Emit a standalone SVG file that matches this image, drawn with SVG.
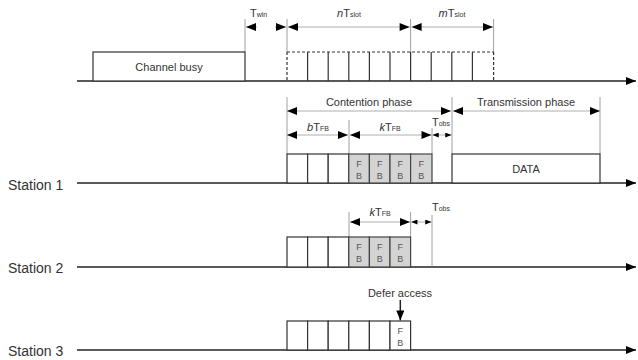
<svg xmlns="http://www.w3.org/2000/svg" width="638" height="360" viewBox="0 0 638 360">
<defs>
<marker id="ah" viewBox="0 0 10 8" refX="10" refY="4" markerWidth="11" markerHeight="8" markerUnits="userSpaceOnUse" orient="auto-start-reverse"><path d="M0,0 L10,4 L0,8 Z" fill="#000"/></marker>
<marker id="as" viewBox="0 0 10 8" refX="10" refY="4" markerWidth="7" markerHeight="5" markerUnits="userSpaceOnUse" orient="auto-start-reverse"><path d="M0,0 L10,4 L0,8 Z" fill="#000"/></marker>
</defs>
<style>
text{font-family:"Liberation Sans",Arial,sans-serif;fill:#333}
.lbl{font-size:11px}
.st{font-size:14px}
.sub{font-size:7px}
.fb{font-size:9px;fill:#555;text-anchor:middle}
.box{fill:#fff;stroke:#333;stroke-width:1.2}
.gbox{fill:#d4d4d4;stroke:#444;stroke-width:1.2}
.base{stroke:#222;stroke-width:1.5;fill:none}
.dim{stroke:#999;stroke-width:0.8;fill:none}
.ext{stroke:#888;stroke-width:0.8;fill:none}
</style>
<rect width="638" height="360" fill="#fff"/>
<g id="connectors">
<!-- timelines -->
<line class="base" x1="77" y1="81" x2="636" y2="81" marker-end="url(#ah)"/>
<line class="base" x1="77" y1="183" x2="636" y2="183" marker-end="url(#ah)"/>
<line class="base" x1="77" y1="267" x2="636" y2="267" marker-end="url(#ah)"/>
<line class="base" x1="77" y1="350" x2="636" y2="350" marker-end="url(#ah)"/>
<!-- top extension lines -->
<line class="ext" x1="245" y1="19" x2="245" y2="52"/>
<line class="ext" x1="287" y1="19" x2="287" y2="52"/>
<line class="ext" x1="410.6" y1="19" x2="410.6" y2="52"/>
<line class="ext" x1="493.6" y1="19" x2="493.6" y2="52"/>
<!-- top dimension arrows -->
<path d="M257,27 L246,27" class="dim" marker-end="url(#ah)"/>
<path d="M275,27 L286,27" class="dim" marker-end="url(#ah)"/>
<line class="dim" x1="288" y1="27" x2="409.6" y2="27" marker-start="url(#ah)" marker-end="url(#ah)"/>
<line class="dim" x1="411.6" y1="27" x2="493" y2="27" marker-start="url(#ah)" marker-end="url(#ah)"/>
<!-- station 1 extension lines -->
<line class="ext" x1="287" y1="97" x2="287" y2="154"/>
<line class="ext" x1="452" y1="97" x2="452" y2="154"/>
<line class="ext" x1="600" y1="97" x2="600" y2="154"/>
<line class="ext" x1="349" y1="120" x2="349" y2="154"/>
<line class="ext" x1="432" y1="128" x2="432" y2="154" stroke="#bbb"/>
<!-- station 1 dimension arrows -->
<line class="dim" x1="287" y1="111" x2="451" y2="111" marker-start="url(#ah)" marker-end="url(#ah)"/>
<line class="dim" x1="453" y1="111" x2="600" y2="111" marker-start="url(#ah)" marker-end="url(#ah)"/>
<line class="dim" x1="287" y1="135" x2="348" y2="135" marker-start="url(#ah)" marker-end="url(#ah)"/>
<line class="dim" x1="350" y1="135" x2="431.5" y2="135" marker-start="url(#ah)" marker-end="url(#ah)"/>
<line class="dim" x1="432.5" y1="135" x2="451.5" y2="135" marker-start="url(#as)" marker-end="url(#as)"/>
<!-- station 2 -->
<line class="ext" x1="349" y1="212" x2="349" y2="237"/>
<line class="ext" x1="410.6" y1="212" x2="410.6" y2="237"/>
<line class="ext" x1="432" y1="215" x2="432" y2="267" stroke="#bbb"/>
<line class="dim" x1="350" y1="222" x2="410" y2="222" marker-start="url(#ah)" marker-end="url(#ah)"/>
<line class="dim" x1="411.2" y1="222" x2="431.5" y2="222" marker-start="url(#as)" marker-end="url(#as)"/>
<!-- station 3 defer arrow -->
<line class="base" x1="400.3" y1="300" x2="400.3" y2="320.5" stroke-width="1" marker-end="url(#ah)"/>
</g>
<g id="channel-busy">
<rect class="box" x="93" y="52" width="152" height="29"/>
<text class="lbl" x="169" y="70.5" text-anchor="middle">Channel busy</text>
</g>
<g id="slots">
<line x1="287" y1="52" x2="493.6" y2="52" stroke="#333" stroke-width="1.2" stroke-dasharray="3,2"/>
<line x1="287" y1="52" x2="287" y2="81" stroke="#333" stroke-width="1.2" stroke-dasharray="3,2"/>
<line x1="493.6" y1="52" x2="493.6" y2="81" stroke="#333" stroke-width="1.2" stroke-dasharray="3,2"/>
<g stroke="#333" stroke-width="1.2">
<line x1="307.6" y1="52" x2="307.6" y2="81"/>
<line x1="328.2" y1="52" x2="328.2" y2="81"/>
<line x1="348.8" y1="52" x2="348.8" y2="81"/>
<line x1="369.4" y1="52" x2="369.4" y2="81"/>
<line x1="390" y1="52" x2="390" y2="81"/>
<line x1="410.6" y1="52" x2="410.6" y2="81"/>
<line x1="431.2" y1="52" x2="431.2" y2="81"/>
<line x1="451.8" y1="52" x2="451.8" y2="81"/>
<line x1="472.4" y1="52" x2="472.4" y2="81"/>
</g>
</g>
<g id="top-labels">
<text class="lbl" x="250" y="17">T<tspan class="sub" dy="0">win</tspan></text>
<text class="lbl" x="349" y="17" text-anchor="middle"><tspan font-style="italic">n</tspan>T<tspan class="sub">slot</tspan></text>
<text class="lbl" x="452" y="17" text-anchor="middle"><tspan font-style="italic">m</tspan>T<tspan class="sub">slot</tspan></text>
</g>
<g id="station1">
<text class="st" x="8" y="190">Station 1</text>
<rect class="box" x="287" y="154" width="20.6" height="29"/>
<rect class="box" x="307.6" y="154" width="20.6" height="29"/>
<rect class="box" x="328.2" y="154" width="20.6" height="29"/>
<rect class="gbox" x="348.8" y="154" width="20.6" height="29"/>
<rect class="gbox" x="369.4" y="154" width="20.6" height="29"/>
<rect class="gbox" x="390" y="154" width="20.6" height="29"/>
<rect class="gbox" x="410.6" y="154" width="21.4" height="29"/>
<text class="fb" x="359.1" y="167">F</text><text class="fb" x="359.1" y="179">B</text>
<text class="fb" x="379.7" y="167">F</text><text class="fb" x="379.7" y="179">B</text>
<text class="fb" x="400.3" y="167">F</text><text class="fb" x="400.3" y="179">B</text>
<text class="fb" x="421.3" y="167">F</text><text class="fb" x="421.3" y="179">B</text>
<rect class="box" x="452" y="154" width="148" height="29"/>
<text class="lbl" x="526" y="173" text-anchor="middle">DATA</text>
<text class="lbl" x="369" y="106" text-anchor="middle">Contention phase</text>
<text class="lbl" x="526" y="106" text-anchor="middle">Transmission phase</text>
<text class="lbl" x="318" y="131" text-anchor="middle"><tspan font-style="italic">b</tspan>T<tspan class="sub">FB</tspan></text>
<text class="lbl" x="390" y="131" text-anchor="middle"><tspan font-style="italic">k</tspan>T<tspan class="sub">FB</tspan></text>
<text class="lbl" x="441" y="126" text-anchor="middle">T<tspan class="sub">obs</tspan></text>
</g>
<g id="station2">
<text class="st" x="8" y="273">Station 2</text>
<rect class="box" x="287" y="237" width="20.6" height="30"/>
<rect class="box" x="307.6" y="237" width="20.6" height="30"/>
<rect class="box" x="328.2" y="237" width="20.6" height="30"/>
<rect class="gbox" x="348.8" y="237" width="20.6" height="30"/>
<rect class="gbox" x="369.4" y="237" width="20.6" height="30"/>
<rect class="gbox" x="390" y="237" width="20.6" height="30"/>
<text class="fb" x="359.1" y="250">F</text><text class="fb" x="359.1" y="262">B</text>
<text class="fb" x="379.7" y="250">F</text><text class="fb" x="379.7" y="262">B</text>
<text class="fb" x="400.3" y="250">F</text><text class="fb" x="400.3" y="262">B</text>
<text class="lbl" x="380" y="216" text-anchor="middle"><tspan font-style="italic">k</tspan>T<tspan class="sub">FB</tspan></text>
<text class="lbl" x="441" y="211" text-anchor="middle">T<tspan class="sub">obs</tspan></text>
</g>
<g id="station3">
<text class="st" x="8" y="356">Station 3</text>
<rect class="box" x="287" y="321" width="20.6" height="29"/>
<rect class="box" x="307.6" y="321" width="20.6" height="29"/>
<rect class="box" x="328.2" y="321" width="20.6" height="29"/>
<rect class="box" x="348.8" y="321" width="20.6" height="29"/>
<rect class="box" x="369.4" y="321" width="20.6" height="29"/>
<rect class="box" x="390" y="321" width="20.6" height="29"/>
<text class="fb" x="400.3" y="334">F</text><text class="fb" x="400.3" y="346">B</text>
<text class="lbl" x="400" y="297" text-anchor="middle">Defer access</text>
</g>
</svg>
